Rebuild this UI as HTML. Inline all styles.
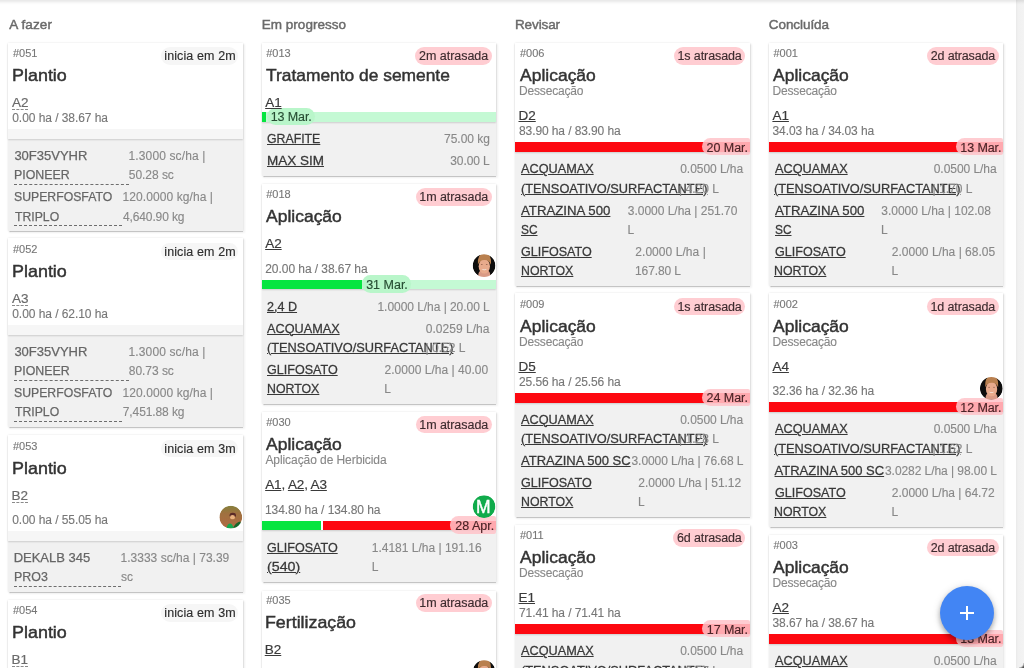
<!DOCTYPE html>
<html lang="pt-BR"><head><meta charset="utf-8"><title>Atividades</title>
<style>html,body{margin:0;padding:0}
body{width:1024px;height:668px;overflow:hidden;position:relative;background:#fff;font-family:"Liberation Sans", sans-serif;-webkit-font-smoothing:antialiased}
#board div,#board span{position:absolute}
#board span{white-space:nowrap;line-height:20px;height:20px;transform-origin:0 0}
.hd{font-size:13.5px;font-weight:400;color:#6a6a6a}
.id{font-size:11px;font-weight:400;color:#777}
.bdg{font-size:12.5px;font-weight:400;color:#2e2e2e}
.bdgp{font-size:12.5px;font-weight:400;color:#3d2b2e}
.ttl{font-size:17px;font-weight:400;color:#333}
.sub{font-size:12px;font-weight:400;color:#888}
.plt{font-size:13.5px;font-weight:400;color:#3a3a3a}
.pltd{font-size:13.5px;font-weight:400;color:#6a6a6a}
.ha{font-size:12px;font-weight:400;color:#777}
.nm{font-size:13px;font-weight:400;color:#666}
.nmu{font-size:13px;font-weight:400;color:#383838}
.qty{font-size:12px;font-weight:400;color:#888}
.pill{font-size:12.5px;font-weight:400;color:#222}
.avm{font-size:17.5px;font-weight:400;color:#fff}
.pillg{font-size:12.5px;font-weight:400;color:#274d33}
.pillr{font-size:12.5px;font-weight:400;color:#4a2326}

.card{background:#f1f1f1;box-shadow:0 1.5px 1px -.5px rgba(0,0,0,.14),0 1px 1px -.5px rgba(0,0,0,.10),0 0 2px rgba(0,0,0,.10),1.5px 1px 2px .5px rgba(0,0,0,.05)}
.ctop{background:#fff;box-shadow:0 1px 1.5px rgba(0,0,0,.15)}
.u{text-decoration:underline;text-decoration-thickness:1.2px;text-underline-offset:1px}
.d{border-bottom:1px dashed #8a8a8a;height:16px !important}
.ttl{-webkit-text-stroke:.45px #333}
.avm{-webkit-text-stroke:.4px #fff}
.hd{-webkit-text-stroke:.45px #6a6a6a}
.nm{-webkit-text-stroke:.25px}
.nmu{-webkit-text-stroke:.27px}
.plt,.pltd{-webkit-text-stroke:.18px}
.ha,.qty,.sub,.id{-webkit-text-stroke:.12px}
.bdg,.bdgp,.pillg,.pillr{-webkit-text-stroke:.15px}
#fab{left:940px;top:586px;width:54px;height:54px;border-radius:50%;background:#4285f4;box-shadow:0 3px 5px rgba(0,0,0,.28),0 1px 8px rgba(0,0,0,.14)}
#fab i{position:absolute;background:#fff}
#sb{left:1016px;top:0;width:8px;height:668px;background:linear-gradient(to right,#e9e9e9,#f1f1f1 2px,#f3f3f3)}
#crn{left:1019px;top:663px;width:5px;height:5px;background:radial-gradient(circle at 0 0,rgba(60,60,60,0) 4px,rgba(60,60,60,.9) 6px)}
#topsh{left:0;top:0;width:1024px;height:5px;background:linear-gradient(rgba(0,0,0,.095),rgba(0,0,0,.07) 1.2px,rgba(0,0,0,.025) 3px,rgba(0,0,0,0))}
</style></head><body>
<main id="board">
<section class="col">
<header><span class="hd" style="left:9.15px;top:14.75px;letter-spacing:0.125px">A fazer</span></header>
<article>
<div class="card" style="left:8.25px;top:42.50px;width:234.50px;height:188.75px;"></div>
<div class="ctop" style="left:8.25px;top:42.50px;width:234.50px;height:96.25px;"></div>
<div class="b" style="left:160.75px;top:47.00px;width:77.50px;height:17.50px;background:#f6f6f6;border-radius:9px"></div>
<div class="bar" style="left:8.25px;top:129.00px;width:234.50px;height:9.75px;background:#f6f6f6"></div>
<div class="dl" style="left:14.40px;top:183.75px;width:114.35px;height:0.00px;border-top:1px dashed #6e6e6e"></div>
<div class="dl" style="left:14.40px;top:225.00px;width:108.10px;height:0.00px;border-top:1px dashed #6e6e6e"></div>
<span class="id" style="left:13.00px;top:43.00px">#051</span>
<span class="bdg" style="left:164.25px;top:46.00px;letter-spacing:0.114px">inicia em 2m</span>
<span class="ttl" style="left:11.95px;top:66.00px;transform:scaleX(1.0545)">Plantio</span>
<span class="pltd d" style="left:11.90px;top:93.00px">A2</span>
<span class="ha" style="left:12.25px;top:108.00px;letter-spacing:-0.059px">0.00 ha / 38.67 ha</span>
<span class="nm" style="left:14.40px;top:146.00px">30F35VYHR</span>
<span class="nm" style="left:13.70px;top:165.25px;transform:scaleX(0.9518)">PIONEER</span>
<span class="qty" style="left:128.50px;top:146.00px;letter-spacing:0.135px">1.3000 sc/ha |</span>
<span class="qty" style="left:128.75px;top:165.25px;letter-spacing:-0.036px">50.28 sc</span>
<span class="nm" style="left:14.18px;top:187.25px;transform:scaleX(0.9419)">SUPERFOSFATO</span>
<span class="nm" style="left:14.65px;top:206.50px;transform:scaleX(0.9409)">TRIPLO</span>
<span class="qty" style="left:122.50px;top:187.25px;letter-spacing:0.083px">120.0000 kg/ha |</span>
<span class="qty" style="left:123.00px;top:206.50px;letter-spacing:-0.125px">4,640.90 kg</span>
</article>
<article>
<div class="card" style="left:8.25px;top:238.00px;width:234.50px;height:189.00px;"></div>
<div class="ctop" style="left:8.25px;top:238.00px;width:234.50px;height:96.50px;"></div>
<div class="b" style="left:160.75px;top:242.75px;width:77.50px;height:17.50px;background:#f6f6f6;border-radius:9px"></div>
<div class="bar" style="left:8.25px;top:324.75px;width:234.50px;height:9.75px;background:#f6f6f6"></div>
<div class="dl" style="left:14.40px;top:379.50px;width:114.35px;height:0.00px;border-top:1px dashed #6e6e6e"></div>
<div class="dl" style="left:14.40px;top:420.75px;width:108.10px;height:0.00px;border-top:1px dashed #6e6e6e"></div>
<span class="id" style="left:13.00px;top:238.75px">#052</span>
<span class="bdg" style="left:164.25px;top:241.75px;letter-spacing:0.114px">inicia em 2m</span>
<span class="ttl" style="left:11.95px;top:261.75px;transform:scaleX(1.0545)">Plantio</span>
<span class="pltd d" style="left:11.90px;top:288.75px">A3</span>
<span class="ha" style="left:12.25px;top:303.75px;letter-spacing:-0.059px">0.00 ha / 62.10 ha</span>
<span class="nm" style="left:14.40px;top:341.75px">30F35VYHR</span>
<span class="nm" style="left:13.70px;top:361.00px;transform:scaleX(0.9518)">PIONEER</span>
<span class="qty" style="left:128.50px;top:341.75px;letter-spacing:0.135px">1.3000 sc/ha |</span>
<span class="qty" style="left:128.75px;top:361.00px;letter-spacing:-0.036px">80.73 sc</span>
<span class="nm" style="left:14.18px;top:383.00px;transform:scaleX(0.9419)">SUPERFOSFATO</span>
<span class="nm" style="left:14.65px;top:402.25px;transform:scaleX(0.9409)">TRIPLO</span>
<span class="qty" style="left:122.50px;top:383.00px;letter-spacing:0.083px">120.0000 kg/ha |</span>
<span class="qty" style="left:122.75px;top:402.25px;letter-spacing:-0.100px">7,451.88 kg</span>
</article>
<article>
<div class="card" style="left:8.25px;top:435.25px;width:234.50px;height:156.75px;"></div>
<div class="ctop" style="left:8.25px;top:435.25px;width:234.50px;height:105.50px;"></div>
<div class="b" style="left:160.75px;top:439.50px;width:77.50px;height:17.50px;background:#f6f6f6;border-radius:9px"></div>
<div class="bar" style="left:8.25px;top:531.00px;width:234.50px;height:9.75px;background:#f6f6f6"></div>
<div class="dl" style="left:14.40px;top:585.75px;width:106.85px;height:0.00px;border-top:1px dashed #6e6e6e"></div>
<div class="av" style="left:219.00px;top:505.00px;width:25.00px;height:25.00px;"><svg viewBox="0 0 25 25" width="25" height="25"><defs><clipPath id="c7"><circle cx="23" cy="23" r="23"/></clipPath></defs><filter id="fc7" x="-10%" y="-10%" width="120%" height="120%"><feGaussianBlur stdDeviation="1.1"/></filter><g transform="translate(0.45 0.80) scale(0.4935)" clip-path="url(#c7)"><g filter="url(#fc7)"><defs><linearGradient id="ggc7" x1="0" y1="0" x2="0" y2="1"><stop offset="0" stop-color="#86803c"/><stop offset=".35" stop-color="#a0703f"/><stop offset="1" stop-color="#b06a45"/></linearGradient></defs><circle cx="23" cy="23" r="23" fill="url(#ggc7)"/><ellipse cx="27" cy="19" rx="6.5" ry="5" fill="#5a2a28"/><ellipse cx="26.5" cy="23" rx="5" ry="4.5" fill="#e9b27e"/><path d="M14 46 Q16 36 22 36 Q26 37 27 41 L30 46Z" fill="#18a850"/><path d="M28 44 Q33 34 42 32 L46 40 L40 46Z" fill="#14662c"/></g></g></svg></div>
<span class="id" style="left:13.00px;top:435.50px">#053</span>
<span class="bdg" style="left:164.25px;top:438.50px;letter-spacing:0.114px">inicia em 3m</span>
<span class="ttl" style="left:11.95px;top:458.50px;transform:scaleX(1.0545)">Plantio</span>
<span class="pltd d" style="left:11.50px;top:485.50px">B2</span>
<span class="ha" style="left:12.25px;top:510.00px;letter-spacing:-0.059px">0.00 ha / 55.05 ha</span>
<span class="nm" style="left:13.65px;top:548.00px">DEKALB 345</span>
<span class="nm" style="left:13.69px;top:567.25px;transform:scaleX(0.9559)">PRO3</span>
<span class="qty" style="left:120.50px;top:548.00px;letter-spacing:0.013px">1.3333 sc/ha | 73.39</span>
<span class="qty" style="left:121.00px;top:567.25px">sc</span>
</article>
<article>
<div class="card" style="left:8.25px;top:600.00px;width:234.50px;height:100.00px;"></div>
<div class="ctop" style="left:8.25px;top:600.00px;width:234.50px;height:96.00px;"></div>
<div class="b" style="left:160.75px;top:604.25px;width:77.50px;height:17.50px;background:#f6f6f6;border-radius:9px"></div>
<div class="bar" style="left:8.25px;top:686.25px;width:234.50px;height:9.75px;background:#f6f6f6"></div>
<span class="id" style="left:13.00px;top:600.25px">#054</span>
<span class="bdg" style="left:164.25px;top:603.25px;letter-spacing:0.114px">inicia em 3m</span>
<span class="ttl" style="left:11.95px;top:623.25px;transform:scaleX(1.0545)">Plantio</span>
<span class="pltd d" style="left:11.50px;top:650.25px">B1</span>
</article>
</section>
<section class="col">
<header><span class="hd" style="left:261.75px;top:14.75px;letter-spacing:0.023px">Em progresso</span></header>
<article>
<div class="card" style="left:261.50px;top:42.50px;width:234.50px;height:133.25px;"></div>
<div class="ctop" style="left:261.50px;top:42.50px;width:234.50px;height:79.25px;"></div>
<div class="b" style="left:415.25px;top:47.00px;width:76.25px;height:17.50px;background:#ffcdd2;border-radius:9px"></div>
<div class="bar" style="left:261.50px;top:112.00px;width:234.50px;height:9.75px;background:#c4f9d4"></div>
<div class="bar" style="left:261.50px;top:112.00px;width:4.25px;height:9.75px;background:#06e540"></div>
<div class="b" style="left:267.00px;top:107.75px;width:47.75px;height:17.25px;background:#b9f6ca;border-radius:8.5px"></div>
<span class="id" style="left:266.25px;top:43.00px">#013</span>
<span class="bdgp" style="left:419.00px;top:46.00px;letter-spacing:-0.025px">2m atrasada</span>
<span class="ttl" style="left:266.25px;top:66.00px;transform:scaleX(1.0223)">Tratamento de semente</span>
<span class="plt u" style="left:265.15px;top:93.00px">A1</span>
<span class="pillg" style="left:270.65px;top:107.25px;letter-spacing:-0.083px">13 Mar.</span>
<span class="nmu u" style="left:267.43px;top:129.00px;transform:scaleX(0.9459)">GRAFITE</span>
<span class="qty" style="left:444.00px;top:129.00px">75.00 kg</span>
<span class="nmu u" style="left:266.86px;top:151.00px;transform:scaleX(1.0377)">MAX SIM</span>
<span class="qty" style="left:450.25px;top:151.00px;letter-spacing:-0.083px">30.00 L</span>
</article>
<article>
<div class="card" style="left:261.50px;top:183.75px;width:234.50px;height:220.00px;"></div>
<div class="ctop" style="left:261.50px;top:183.75px;width:234.50px;height:105.50px;"></div>
<div class="b" style="left:415.75px;top:188.00px;width:75.75px;height:17.50px;background:#ffcdd2;border-radius:9px"></div>
<div class="bar" style="left:261.50px;top:279.50px;width:234.50px;height:9.75px;background:#c4f9d4"></div>
<div class="bar" style="left:261.50px;top:279.50px;width:100.50px;height:9.75px;background:#06e540"></div>
<div class="b" style="left:362.00px;top:275.25px;width:48.75px;height:17.25px;background:#b9f6ca;border-radius:8.5px"></div>
<div class="av" style="left:472.00px;top:254.00px;width:25.00px;height:25.00px;"><svg viewBox="0 0 25 25" width="25" height="25"><defs><clipPath id="c10"><circle cx="23" cy="23" r="23"/></clipPath></defs><filter id="fc10" x="-10%" y="-10%" width="120%" height="120%"><feGaussianBlur stdDeviation="1.1"/></filter><g transform="translate(0.70 0.30) scale(0.4935)" clip-path="url(#c10)"><g filter="url(#fc10)"><circle cx="23" cy="23" r="23" fill="#0c0a09"/><path d="M12 46 Q10 38 15 34 L32 34 Q37 38 35 46Z" fill="#d99a85"/><ellipse cx="23.5" cy="24" rx="11.5" ry="15" fill="#e8aa8c"/><path d="M10.5 21 Q9 -2 24 -2 Q39 -2 37 21 Q33 11 24 11.5 Q14 11 10.5 21Z" fill="#b9804f"/><path d="M18 30 Q23.5 35 29 30 Q23.5 32 18 30Z" fill="#f6e9e2"/><ellipse cx="18.5" cy="20.5" rx="2" ry="1" fill="#8a5a48"/><ellipse cx="28.5" cy="20.5" rx="2" ry="1" fill="#8a5a48"/></g></g></svg></div>
<span class="id" style="left:266.25px;top:184.00px">#018</span>
<span class="bdgp" style="left:419.25px;top:187.00px;letter-spacing:-0.050px">1m atrasada</span>
<span class="ttl" style="left:265.91px;top:207.00px;transform:scaleX(1.0286)">Aplicação</span>
<span class="plt u" style="left:265.15px;top:234.00px">A2</span>
<span class="ha" style="left:265.25px;top:258.50px;letter-spacing:-0.056px">20.00 ha / 38.67 ha</span>
<span class="pillg" style="left:366.15px;top:274.75px">31 Mar.</span>
<span class="nmu u" style="left:267.42px;top:296.50px;transform:scaleX(0.9669)">2,4 D</span>
<span class="qty" style="left:377.50px;top:296.50px;letter-spacing:-0.050px">1.0000 L/ha | 20.00 L</span>
<span class="nmu u" style="left:267.30px;top:318.50px;transform:scaleX(0.9764)">ACQUAMAX</span>
<span class="nmu u" style="left:267.16px;top:337.75px;transform:scaleX(0.9840)">(TENSOATIVO/SURFACTANTE)</span>
<span class="qty" style="left:425.75px;top:318.50px;letter-spacing:0.025px">0.0259 L/ha</span>
<span class="qty" style="left:425.50px;top:337.75px">| 0.52 L</span>
<span class="nmu u" style="left:267.42px;top:359.75px;transform:scaleX(0.9654)">GLIFOSATO</span>
<span class="nmu u" style="left:266.95px;top:379.00px;transform:scaleX(0.9491)">NORTOX</span>
<span class="qty" style="left:384.50px;top:359.75px;letter-spacing:0.028px">2.0000 L/ha | 40.00</span>
<span class="qty" style="left:384.25px;top:379.00px">L</span>
</article>
<article>
<div class="card" style="left:261.50px;top:412.00px;width:234.50px;height:169.50px;"></div>
<div class="ctop" style="left:261.50px;top:412.00px;width:234.50px;height:118.25px;"></div>
<div class="b" style="left:415.75px;top:415.75px;width:75.75px;height:17.50px;background:#ffcdd2;border-radius:9px"></div>
<div class="bar" style="left:261.50px;top:520.50px;width:234.50px;height:9.75px;background:#fd0810"></div>
<div class="bar" style="left:261.50px;top:520.50px;width:59.50px;height:9.75px;background:#06e540"></div>
<div class="bar" style="left:321.00px;top:520.50px;width:2.00px;height:9.75px;background:#fff"></div>
<div class="b" style="left:450.40px;top:516.25px;width:45.60px;height:17.25px;background:rgba(255,196,202,.86);border-radius:8.5px 2px 2px 8.5px"></div>
<div class="av" style="left:472.00px;top:495.00px;width:25.00px;height:25.00px;"><svg viewBox="0 0 25 25" width="25" height="25"><defs><clipPath id="c11"><circle cx="23" cy="23" r="23"/></clipPath></defs><filter id="fc11" x="-10%" y="-10%" width="120%" height="120%"><feGaussianBlur stdDeviation="0"/></filter><g transform="translate(0.70 0.30) scale(0.4935)" clip-path="url(#c11)"><g filter="url(#fc11)"><circle cx="23" cy="23" r="23" fill="#10ab4b"/></g></g></svg></div>
<span class="id" style="left:266.25px;top:411.75px">#030</span>
<span class="bdgp" style="left:419.25px;top:414.75px;letter-spacing:-0.050px">1m atrasada</span>
<span class="ttl" style="left:265.91px;top:434.75px;transform:scaleX(1.0286)">Aplicação</span>
<span class="sub" style="left:265.40px;top:450.00px;letter-spacing:-0.071px">Aplicação de Herbicida</span>
<span class="plt" style="left:265.15px;top:475.00px;letter-spacing:-0.139px"><a class="u">A1</a>, <a class="u">A2</a>, <a class="u">A3</a></span>
<span class="ha" style="left:265.00px;top:499.50px;letter-spacing:-0.062px">134.80 ha / 134.80 ha</span>
<span class="avm" style="left:476.05px;top:497.20px">M</span>
<span class="pillr" style="left:455.30px;top:515.75px">28 Apr.</span>
<span class="nmu u" style="left:267.42px;top:537.50px;transform:scaleX(0.9654)">GLIFOSATO</span>
<span class="nmu u" style="left:267.08px;top:556.75px;transform:scaleX(1.0948)">(540)</span>
<span class="qty" style="left:371.75px;top:537.50px">1.4181 L/ha | 191.16</span>
<span class="qty" style="left:371.75px;top:556.75px">L</span>
</article>
<article>
<div class="card" style="left:261.50px;top:590.50px;width:234.50px;height:109.50px;"></div>
<div class="ctop" style="left:261.50px;top:590.50px;width:234.50px;height:104.75px;"></div>
<div class="b" style="left:415.75px;top:594.00px;width:75.75px;height:17.50px;background:#ffcdd2;border-radius:9px"></div>
<div class="bar" style="left:261.50px;top:685.50px;width:234.50px;height:9.75px;background:#f6f6f6"></div>
<div class="av" style="left:472.00px;top:660.00px;width:25.00px;height:25.00px;"><svg viewBox="0 0 25 25" width="25" height="25"><defs><clipPath id="c12"><circle cx="23" cy="23" r="23"/></clipPath></defs><filter id="fc12" x="-10%" y="-10%" width="120%" height="120%"><feGaussianBlur stdDeviation="1.1"/></filter><g transform="translate(0.70 0.30) scale(0.4935)" clip-path="url(#c12)"><g filter="url(#fc12)"><circle cx="23" cy="23" r="23" fill="#0c0a09"/><path d="M12 46 Q10 38 15 34 L32 34 Q37 38 35 46Z" fill="#d99a85"/><ellipse cx="23.5" cy="24" rx="11.5" ry="15" fill="#e8aa8c"/><path d="M10.5 21 Q9 -2 24 -2 Q39 -2 37 21 Q33 11 24 11.5 Q14 11 10.5 21Z" fill="#b9804f"/><path d="M18 30 Q23.5 35 29 30 Q23.5 32 18 30Z" fill="#f6e9e2"/><ellipse cx="18.5" cy="20.5" rx="2" ry="1" fill="#8a5a48"/><ellipse cx="28.5" cy="20.5" rx="2" ry="1" fill="#8a5a48"/></g></g></svg></div>
<span class="id" style="left:266.25px;top:590.00px">#035</span>
<span class="bdgp" style="left:419.25px;top:593.00px;letter-spacing:-0.050px">1m atrasada</span>
<span class="ttl" style="left:265.20px;top:613.00px;transform:scaleX(1.0468)">Fertilização</span>
<span class="plt u" style="left:264.75px;top:640.00px">B2</span>
</article>
</section>
<section class="col">
<header><span class="hd" style="left:515.00px;top:14.75px;letter-spacing:-0.125px">Revisar</span></header>
<article>
<div class="card" style="left:515.25px;top:42.50px;width:234.50px;height:243.25px;"></div>
<div class="ctop" style="left:515.25px;top:42.50px;width:234.50px;height:109.50px;"></div>
<div class="b" style="left:674.00px;top:47.00px;width:71.25px;height:17.50px;background:#ffcdd2;border-radius:9px"></div>
<div class="bar" style="left:515.25px;top:142.25px;width:234.50px;height:9.75px;background:#fd0810"></div>
<div class="b" style="left:701.65px;top:138.00px;width:48.10px;height:17.25px;background:rgba(255,196,202,.86);border-radius:8.5px 2px 2px 8.5px"></div>
<span class="id" style="left:520.00px;top:43.00px">#006</span>
<span class="bdgp" style="left:677.50px;top:46.00px;letter-spacing:-0.100px">1s atrasada</span>
<span class="ttl" style="left:519.66px;top:66.00px;transform:scaleX(1.0286)">Aplicação</span>
<span class="sub" style="left:519.00px;top:81.25px;letter-spacing:-0.167px">Dessecação</span>
<span class="plt u" style="left:518.50px;top:106.25px">D2</span>
<span class="ha" style="left:519.00px;top:121.25px;letter-spacing:-0.097px">83.90 ha / 83.90 ha</span>
<span class="pillr" style="left:706.55px;top:137.50px;letter-spacing:-0.042px">20 Mar.</span>
<span class="nmu u" style="left:521.05px;top:159.25px;transform:scaleX(0.9764)">ACQUAMAX</span>
<span class="nmu u" style="left:520.91px;top:178.50px;transform:scaleX(0.9840)">(TENSOATIVO/SURFACTANTE)</span>
<span class="qty" style="left:680.25px;top:159.25px;letter-spacing:-0.050px">0.0500 L/ha</span>
<span class="qty" style="left:679.00px;top:178.50px">| 4.20 L</span>
<span class="nmu u" style="left:521.05px;top:200.50px;transform:scaleX(1.0171)">ATRAZINA 500</span>
<span class="nmu u" style="left:521.19px;top:219.75px;transform:scaleX(0.9130)">SC</span>
<span class="qty" style="left:627.75px;top:200.50px;letter-spacing:-0.013px">3.0000 L/ha | 251.70</span>
<span class="qty" style="left:627.50px;top:219.75px">L</span>
<span class="nmu u" style="left:521.17px;top:241.75px;transform:scaleX(0.9654)">GLIFOSATO</span>
<span class="nmu u" style="left:520.70px;top:261.00px;transform:scaleX(0.9491)">NORTOX</span>
<span class="qty" style="left:635.25px;top:241.75px;letter-spacing:0.062px">2.0000 L/ha |</span>
<span class="qty" style="left:635.00px;top:261.00px;letter-spacing:-0.107px">167.80 L</span>
</article>
<article>
<div class="card" style="left:515.25px;top:293.00px;width:234.50px;height:224.00px;"></div>
<div class="ctop" style="left:515.25px;top:293.00px;width:234.50px;height:109.50px;"></div>
<div class="b" style="left:674.00px;top:297.50px;width:71.25px;height:17.50px;background:#ffcdd2;border-radius:9px"></div>
<div class="bar" style="left:515.25px;top:392.75px;width:234.50px;height:9.75px;background:#fd0810"></div>
<div class="b" style="left:701.65px;top:388.50px;width:48.10px;height:17.25px;background:rgba(255,196,202,.86);border-radius:8.5px 2px 2px 8.5px"></div>
<span class="id" style="left:520.00px;top:293.50px">#009</span>
<span class="bdgp" style="left:677.50px;top:296.50px;letter-spacing:-0.100px">1s atrasada</span>
<span class="ttl" style="left:519.66px;top:316.50px;transform:scaleX(1.0286)">Aplicação</span>
<span class="sub" style="left:519.00px;top:331.75px;letter-spacing:-0.167px">Dessecação</span>
<span class="plt u" style="left:518.50px;top:356.75px">D5</span>
<span class="ha" style="left:519.00px;top:371.75px;letter-spacing:-0.097px">25.56 ha / 25.56 ha</span>
<span class="pillr" style="left:706.55px;top:388.00px;letter-spacing:-0.042px">24 Mar.</span>
<span class="nmu u" style="left:521.05px;top:409.75px;transform:scaleX(0.9764)">ACQUAMAX</span>
<span class="nmu u" style="left:520.91px;top:429.00px;transform:scaleX(0.9840)">(TENSOATIVO/SURFACTANTE)</span>
<span class="qty" style="left:680.25px;top:409.75px;letter-spacing:-0.050px">0.0500 L/ha</span>
<span class="qty" style="left:679.00px;top:429.00px">| 1.28 L</span>
<span class="nmu u" style="left:521.05px;top:451.00px">ATRAZINA 500 SC</span>
<span class="qty" style="left:631.50px;top:451.00px;letter-spacing:-0.062px">3.0000 L/ha | 76.68 L</span>
<span class="nmu u" style="left:521.17px;top:473.00px;transform:scaleX(0.9654)">GLIFOSATO</span>
<span class="nmu u" style="left:520.70px;top:492.25px;transform:scaleX(0.9491)">NORTOX</span>
<span class="qty" style="left:638.25px;top:473.00px;letter-spacing:-0.014px">2.0000 L/ha | 51.12</span>
<span class="qty" style="left:638.00px;top:492.25px">L</span>
</article>
<article>
<div class="card" style="left:515.25px;top:524.50px;width:234.50px;height:175.50px;"></div>
<div class="ctop" style="left:515.25px;top:524.50px;width:234.50px;height:109.50px;"></div>
<div class="b" style="left:673.25px;top:529.00px;width:72.00px;height:17.50px;background:#ffcdd2;border-radius:9px"></div>
<div class="bar" style="left:515.25px;top:624.25px;width:234.50px;height:9.75px;background:#fd0810"></div>
<div class="b" style="left:702.15px;top:620.00px;width:47.60px;height:17.25px;background:rgba(255,196,202,.86);border-radius:8.5px 2px 2px 8.5px"></div>
<span class="id" style="left:520.00px;top:525.00px">#011</span>
<span class="bdgp" style="left:677.00px;top:528.00px;letter-spacing:-0.125px">6d atrasada</span>
<span class="ttl" style="left:519.66px;top:548.00px;transform:scaleX(1.0286)">Aplicação</span>
<span class="sub" style="left:519.00px;top:563.25px;letter-spacing:-0.167px">Dessecação</span>
<span class="plt u" style="left:518.50px;top:588.25px">E1</span>
<span class="ha" style="left:519.00px;top:603.25px;letter-spacing:-0.097px">71.41 ha / 71.41 ha</span>
<span class="pillr" style="left:706.80px;top:619.50px;letter-spacing:-0.083px">17 Mar.</span>
<span class="nmu u" style="left:521.05px;top:641.25px;transform:scaleX(0.9764)">ACQUAMAX</span>
<span class="nmu u" style="left:520.91px;top:660.50px;transform:scaleX(0.9840)">(TENSOATIVO/SURFACTANTE)</span>
<span class="qty" style="left:680.25px;top:641.25px;letter-spacing:-0.050px">0.0500 L/ha</span>
<span class="qty" style="left:679.00px;top:660.50px">| 3.57 L</span>
</article>
</section>
<section class="col">
<header><span class="hd" style="left:768.75px;top:14.75px;letter-spacing:-0.062px">Concluída</span></header>
<article>
<div class="card" style="left:768.75px;top:42.50px;width:234.50px;height:243.25px;"></div>
<div class="ctop" style="left:768.75px;top:42.50px;width:234.50px;height:109.50px;"></div>
<div class="b" style="left:927.00px;top:47.00px;width:71.75px;height:17.50px;background:#ffcdd2;border-radius:9px"></div>
<div class="bar" style="left:768.75px;top:142.25px;width:234.50px;height:9.75px;background:#fd0810"></div>
<div class="b" style="left:955.65px;top:138.00px;width:47.60px;height:17.25px;background:rgba(255,196,202,.86);border-radius:8.5px 2px 2px 8.5px"></div>
<span class="id" style="left:773.50px;top:43.00px">#001</span>
<span class="bdgp" style="left:930.75px;top:46.00px;letter-spacing:-0.150px">2d atrasada</span>
<span class="ttl" style="left:773.16px;top:66.00px;transform:scaleX(1.0286)">Aplicação</span>
<span class="sub" style="left:772.50px;top:81.25px;letter-spacing:-0.167px">Dessecação</span>
<span class="plt u" style="left:772.40px;top:106.25px">A1</span>
<span class="ha" style="left:772.50px;top:121.25px;letter-spacing:-0.097px">34.03 ha / 34.03 ha</span>
<span class="pillr" style="left:960.30px;top:137.50px;letter-spacing:-0.083px">13 Mar.</span>
<span class="nmu u" style="left:774.55px;top:159.25px;transform:scaleX(0.9764)">ACQUAMAX</span>
<span class="nmu u" style="left:774.41px;top:178.50px;transform:scaleX(0.9840)">(TENSOATIVO/SURFACTANTE)</span>
<span class="qty" style="left:933.75px;top:159.25px;letter-spacing:-0.050px">0.0500 L/ha</span>
<span class="qty" style="left:932.50px;top:178.50px">| 1.70 L</span>
<span class="nmu u" style="left:774.55px;top:200.50px;transform:scaleX(1.0171)">ATRAZINA 500</span>
<span class="nmu u" style="left:774.69px;top:219.75px;transform:scaleX(0.9130)">SC</span>
<span class="qty" style="left:881.25px;top:200.50px;letter-spacing:-0.013px">3.0000 L/ha | 102.08</span>
<span class="qty" style="left:881.00px;top:219.75px">L</span>
<span class="nmu u" style="left:774.67px;top:241.75px;transform:scaleX(0.9654)">GLIFOSATO</span>
<span class="nmu u" style="left:774.20px;top:261.00px;transform:scaleX(0.9491)">NORTOX</span>
<span class="qty" style="left:891.75px;top:241.75px;letter-spacing:0.014px">2.0000 L/ha | 68.05</span>
<span class="qty" style="left:891.50px;top:261.00px">L</span>
</article>
<article>
<div class="card" style="left:768.75px;top:293.00px;width:234.50px;height:233.50px;"></div>
<div class="ctop" style="left:768.75px;top:293.00px;width:234.50px;height:119.00px;"></div>
<div class="b" style="left:927.00px;top:297.50px;width:71.75px;height:17.50px;background:#ffcdd2;border-radius:9px"></div>
<div class="bar" style="left:768.75px;top:402.25px;width:234.50px;height:9.75px;background:#fd0810"></div>
<div class="b" style="left:955.65px;top:398.00px;width:47.60px;height:17.25px;background:rgba(255,196,202,.86);border-radius:8.5px 2px 2px 8.5px"></div>
<div class="av" style="left:979.00px;top:377.00px;width:25.00px;height:25.00px;"><svg viewBox="0 0 25 25" width="25" height="25"><defs><clipPath id="c17"><circle cx="23" cy="23" r="23"/></clipPath></defs><filter id="fc17" x="-10%" y="-10%" width="120%" height="120%"><feGaussianBlur stdDeviation="1.1"/></filter><g transform="translate(0.95 0.05) scale(0.4935)" clip-path="url(#c17)"><g filter="url(#fc17)"><circle cx="23" cy="23" r="23" fill="#0c0a09"/><path d="M12 46 Q10 38 15 34 L32 34 Q37 38 35 46Z" fill="#d99a85"/><ellipse cx="23.5" cy="24" rx="11.5" ry="15" fill="#e8aa8c"/><path d="M10.5 21 Q9 -2 24 -2 Q39 -2 37 21 Q33 11 24 11.5 Q14 11 10.5 21Z" fill="#b9804f"/><path d="M18 30 Q23.5 35 29 30 Q23.5 32 18 30Z" fill="#f6e9e2"/><ellipse cx="18.5" cy="20.5" rx="2" ry="1" fill="#8a5a48"/><ellipse cx="28.5" cy="20.5" rx="2" ry="1" fill="#8a5a48"/></g></g></svg></div>
<span class="id" style="left:773.50px;top:293.50px">#002</span>
<span class="bdgp" style="left:930.50px;top:296.50px;letter-spacing:-0.125px">1d atrasada</span>
<span class="ttl" style="left:773.16px;top:316.50px;transform:scaleX(1.0286)">Aplicação</span>
<span class="sub" style="left:772.50px;top:331.75px;letter-spacing:-0.167px">Dessecação</span>
<span class="plt u" style="left:772.40px;top:356.75px">A4</span>
<span class="ha" style="left:772.50px;top:381.25px;letter-spacing:-0.097px">32.36 ha / 32.36 ha</span>
<span class="pillr" style="left:960.30px;top:397.50px;letter-spacing:-0.083px">12 Mar.</span>
<span class="nmu u" style="left:774.55px;top:419.25px;transform:scaleX(0.9764)">ACQUAMAX</span>
<span class="nmu u" style="left:774.41px;top:438.50px;transform:scaleX(0.9840)">(TENSOATIVO/SURFACTANTE)</span>
<span class="qty" style="left:933.75px;top:419.25px;letter-spacing:-0.050px">0.0500 L/ha</span>
<span class="qty" style="left:932.50px;top:438.50px">| 1.62 L</span>
<span class="nmu u" style="left:774.55px;top:460.50px">ATRAZINA 500 SC</span>
<span class="qty" style="left:885.00px;top:460.50px;letter-spacing:-0.062px">3.0282 L/ha | 98.00 L</span>
<span class="nmu u" style="left:774.67px;top:482.50px;transform:scaleX(0.9654)">GLIFOSATO</span>
<span class="nmu u" style="left:774.20px;top:501.75px;transform:scaleX(0.9491)">NORTOX</span>
<span class="qty" style="left:891.75px;top:482.50px;letter-spacing:-0.014px">2.0000 L/ha | 64.72</span>
<span class="qty" style="left:891.50px;top:501.75px">L</span>
</article>
<article>
<div class="card" style="left:768.75px;top:534.50px;width:234.50px;height:165.50px;"></div>
<div class="ctop" style="left:768.75px;top:534.50px;width:234.50px;height:109.25px;"></div>
<div class="b" style="left:927.00px;top:538.75px;width:71.75px;height:17.50px;background:#ffcdd2;border-radius:9px"></div>
<div class="bar" style="left:768.75px;top:634.00px;width:234.50px;height:9.75px;background:#fd0810"></div>
<div class="b" style="left:955.65px;top:629.75px;width:47.60px;height:17.25px;background:rgba(255,196,202,.86);border-radius:8.5px 2px 2px 8.5px"></div>
<span class="id" style="left:773.50px;top:534.75px">#003</span>
<span class="bdgp" style="left:930.75px;top:537.75px;letter-spacing:-0.150px">2d atrasada</span>
<span class="ttl" style="left:773.16px;top:557.75px;transform:scaleX(1.0286)">Aplicação</span>
<span class="sub" style="left:772.50px;top:573.00px;letter-spacing:-0.167px">Dessecação</span>
<span class="plt u" style="left:772.40px;top:598.00px">A2</span>
<span class="ha" style="left:772.50px;top:613.00px;letter-spacing:-0.097px">38.67 ha / 38.67 ha</span>
<span class="pillr" style="left:960.30px;top:629.25px;letter-spacing:-0.083px">13 Mar.</span>
<span class="nmu u" style="left:774.55px;top:651.00px;transform:scaleX(0.9764)">ACQUAMAX</span>
<span class="qty" style="left:933.75px;top:651.00px;letter-spacing:-0.050px">0.0500 L/ha</span>
</article>
</section>
<div id="sb"></div><div id="crn"></div><div id="topsh"></div>
<div id="fab"><i style="left:20px;top:26px;width:14px;height:2px"></i><i style="left:26px;top:20px;width:2px;height:14px"></i></div>
</main></body></html>
